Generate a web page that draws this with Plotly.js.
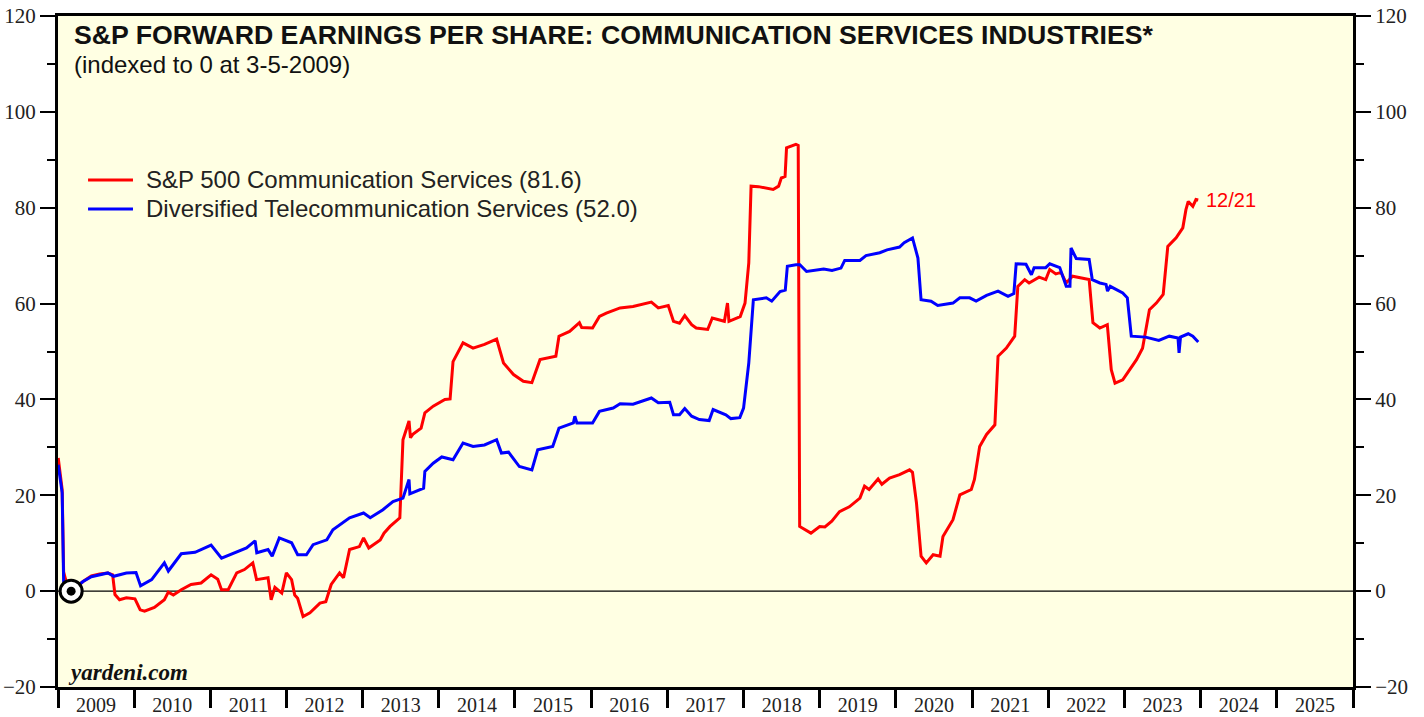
<!DOCTYPE html>
<html>
<head>
<meta charset="utf-8">
<script src="https://cdn.plot.ly/plotly-3.0.1.min.js"></script>
<style>
  html, body { margin: 0; padding: 0; background: #ffffff; }
  #chart { width: 1424px; height: 717px; }
</style>
</head>
<body>
<div id="chart"></div>
<script>
// ---- Data ----
const redName = "S&P 500 Communication Services (81.6)";
const blueName = "Diversified Telecommunication Services (52.0)";

const redDates = [
 "2009-01-02","2009-01-21","2009-01-28","2009-02-06","2009-02-20","2009-03-05","2009-05-01","2009-06-10","2009-07-20","2009-08-28",
 "2009-09-20","2009-10-01","2009-10-23","2009-11-25","2010-01-05","2010-01-30","2010-02-20","2010-04-08","2010-05-26","2010-06-14",
 "2010-07-08","2010-08-15","2010-10-01","2010-11-18","2011-01-05","2011-02-06","2011-02-24","2011-03-28","2011-05-08","2011-06-14",
 "2011-07-24","2011-08-11","2011-10-05","2011-10-20","2011-11-07","2011-12-10","2012-01-01","2012-01-26","2012-02-10","2012-02-24",
 "2012-03-21","2012-04-23","2012-06-10","2012-07-08","2012-08-03","2012-09-12","2012-10-01","2012-10-30","2012-12-16","2013-01-05",
 "2013-01-30","2013-03-26","2013-04-13","2013-05-12","2013-06-28","2013-07-13","2013-08-11","2013-08-18","2013-08-29","2013-10-08",
 "2013-10-26","2013-12-05","2014-01-30","2014-02-24","2014-03-10","2014-04-27","2014-06-14","2014-08-08","2014-10-05","2014-11-07",
 "2014-12-25","2015-02-10","2015-03-23","2015-05-01","2015-07-16","2015-07-31","2015-09-20","2015-11-06","2015-11-17","2016-01-08",
 "2016-02-10","2016-03-14","2016-05-19","2016-07-20","2016-10-16","2016-11-18","2017-01-05","2017-01-30","2017-02-28","2017-03-25",
 "2017-04-27","2017-05-19","2017-07-13","2017-08-04","2017-10-01","2017-10-16","2017-10-23","2017-12-16","2018-01-08","2018-01-26",
 "2018-02-06","2018-03-14","2018-05-23","2018-06-18","2018-07-01","2018-07-19","2018-07-26","2018-09-09","2018-09-20","2018-09-27",
 "2018-11-20","2019-01-01","2019-01-26","2019-02-28","2019-04-06","2019-05-23","2019-07-13","2019-08-04","2019-08-26","2019-10-08",
 "2019-10-26","2019-12-02","2020-01-19","2020-03-07","2020-03-21","2020-04-09","2020-05-01","2020-05-26","2020-06-28","2020-07-31",
 "2020-08-14","2020-10-01","2020-11-03","2020-12-28","2021-01-12","2021-02-06","2021-03-11","2021-04-20","2021-05-05","2021-06-14",
 "2021-07-24","2021-08-08","2021-09-10","2021-10-01","2021-11-18","2021-12-20","2022-01-08","2022-02-06","2022-03-03","2022-03-28",
 "2022-04-27","2022-06-06","2022-07-16","2022-08-03","2022-09-05","2022-10-11","2022-10-30","2022-11-17","2022-12-24","2023-01-15",
 "2023-02-03","2023-02-28","2023-03-29","2023-05-01","2023-06-03","2023-07-06","2023-07-28","2023-09-06","2023-10-08","2023-10-23",
 "2023-11-03","2023-11-25","2023-12-10","2023-12-21"
];
const redValues = [
 27.8,21.2,4.0,2.5,1.0,0.0,2.0,3.2,3.6,3.8,
 3.4,-0.7,-1.8,-1.4,-1.6,-3.9,-4.2,-3.4,-1.8,-0.2,
 -0.8,0.3,1.4,1.7,3.4,2.5,0.3,0.3,3.8,4.5,
 5.9,2.4,2.8,-1.8,0.8,-0.4,3.8,2.4,-0.8,-1.5,
 -5.3,-4.5,-2.5,-2.2,1.4,3.8,2.8,8.7,9.3,11.1,
 9.0,10.7,12.1,13.5,15.3,31.6,35.5,32.0,32.7,34.0,
 37.2,38.6,40.0,40.1,47.9,51.8,50.7,51.5,52.6,47.6,
 45.2,43.8,43.5,48.3,49.0,53.2,54.2,56.0,55.0,54.9,
 57.3,58.0,59.1,59.4,60.3,59.1,59.6,56.3,55.9,57.5,
 55.6,54.9,54.6,57.0,56.3,60.1,56.3,57.3,60.1,68.5,
 84.5,84.4,83.8,84.5,86.2,86.5,92.5,93.2,93.0,13.5,
 12.1,13.5,13.4,14.6,16.6,17.6,19.4,21.9,21.2,23.4,
 22.3,23.6,24.3,25.3,24.8,18.4,7.3,5.9,7.6,7.3,
 11.4,14.9,20.1,21.2,23.3,30.2,32.7,34.7,49.0,50.7,
 53.2,63.6,65.0,64.3,65.5,65.0,67.1,66.2,66.5,64.3,
 65.7,65.3,65.0,56.0,54.9,55.6,46.2,43.4,44.1,45.5,
 46.6,48.3,50.7,58.7,60.1,61.9,71.9,73.7,75.8,79.6,
 81.3,80.3,81.7,81.6
];

const blueDates = [
 "2009-01-02","2009-01-21","2009-01-28","2009-02-10","2009-03-05","2009-05-01","2009-06-10","2009-07-20","2009-08-28","2009-09-25",
 "2009-11-25","2010-01-10","2010-02-01","2010-03-26","2010-05-26","2010-06-14","2010-08-15","2010-10-20","2011-01-05","2011-02-24",
 "2011-04-27","2011-06-24","2011-08-04","2011-08-12","2011-10-05","2011-10-25","2011-11-28","2012-01-26","2012-02-24","2012-04-06",
 "2012-05-08","2012-07-13","2012-08-11","2012-10-30","2013-01-05","2013-02-06","2013-04-08","2013-05-26","2013-07-13","2013-08-11",
 "2013-08-15","2013-10-01","2013-10-20","2013-10-26","2013-12-05","2014-01-15","2014-03-10","2014-04-27","2014-06-14","2014-08-08",
 "2014-10-05","2014-10-28","2014-12-01","2015-01-22","2015-03-23","2015-04-20","2015-07-01","2015-07-31","2015-10-08","2015-10-15",
 "2015-10-25","2016-01-08","2016-02-10","2016-04-16","2016-05-19","2016-07-20","2016-10-16","2016-11-18","2017-01-12","2017-01-30",
 "2017-02-28","2017-03-25","2017-04-27","2017-06-03","2017-07-20","2017-08-08","2017-10-08","2017-11-01","2017-12-14","2018-01-01",
 "2018-01-26","2018-02-17","2018-04-20","2018-05-16","2018-06-25","2018-07-20","2018-07-30","2018-09-09","2018-09-28","2018-10-30",
 "2019-01-20","2019-03-01","2019-04-13","2019-05-01","2019-07-13","2019-08-11","2019-10-16","2019-11-20","2020-01-19","2020-02-10",
 "2020-03-21","2020-04-16","2020-05-01","2020-06-18","2020-07-20","2020-10-01","2020-11-03","2020-12-20","2021-01-20","2021-03-11",
 "2021-05-05","2021-06-22","2021-07-20","2021-07-31","2021-09-16","2021-10-12","2021-10-25","2021-12-20","2022-01-08","2022-02-25",
 "2022-03-28","2022-04-15","2022-04-20","2022-05-15","2022-07-16","2022-07-31","2022-09-05","2022-10-05","2022-10-12","2022-10-25",
 "2022-12-24","2023-01-15","2023-02-03","2023-04-13","2023-06-15","2023-08-04","2023-09-15","2023-09-20","2023-09-27","2023-11-03",
 "2023-11-25","2023-12-21"
];
const blueValues = [
 26.4,20.5,2.0,1.0,0.0,2.0,3.0,3.4,3.8,3.1,
 3.8,3.9,1.1,2.4,5.9,4.2,7.8,8.1,9.6,6.9,
 8.0,9.0,10.5,8.0,8.7,7.3,11.1,10.1,7.6,7.6,
 9.7,10.7,12.8,15.3,16.3,15.3,17.0,18.7,19.4,23.3,
 20.3,21.2,21.5,25.0,26.7,28.0,27.4,30.9,30.2,30.5,
 31.6,28.8,29.0,26.0,25.3,29.5,30.2,34.0,35.1,36.5,
 35.1,35.1,37.5,38.2,39.1,39.0,40.3,39.3,39.4,36.8,
 36.8,38.1,36.5,35.8,35.6,37.9,36.8,36.0,36.2,38.2,
 47.6,60.8,61.2,60.5,62.5,62.8,67.8,68.1,68.1,66.7,
 67.2,66.9,67.4,69.0,69.0,70.0,70.6,71.2,71.8,72.7,
 73.7,69.5,60.8,60.5,59.6,60.1,61.2,61.2,60.5,61.7,
 62.6,61.5,62.1,68.3,68.2,66.0,67.5,67.5,68.3,67.5,
 63.6,63.6,71.6,69.4,69.2,65.0,64.3,64.0,62.6,63.6,
 62.2,61.2,53.2,53.0,52.3,53.2,52.8,49.7,53.0,53.7,
 53.2,52.0
];

const indexDate = ["2009-03-05"];
const indexValue = [0];
const lastLabel = "12/21";
const yTickVals = [-20, 0, 20, 40, 60, 80, 100, 120];

// ---- Styling ----
const serif = "Liberation Serif, Times New Roman, serif";
const sans = "Liberation Sans, Arial, sans-serif";
const RED = "#ff0000", BLUE = "#0000ff";

const traces = [
  { x: redDates, y: redValues, name: redName, type: "scatter", mode: "lines",
    line: { color: RED, width: 3 }, hoverinfo: "skip", showlegend: false },
  { x: blueDates, y: blueValues, name: blueName, type: "scatter", mode: "lines",
    line: { color: BLUE, width: 3 }, hoverinfo: "skip", showlegend: false },
  { x: indexDate, y: indexValue, type: "scatter", mode: "markers", showlegend: false,
    marker: { size: 22, color: "#ffffff", line: { color: "#000000", width: 3 } }, hoverinfo: "skip" },
  { x: indexDate, y: indexValue, type: "scatter", mode: "markers", showlegend: false,
    marker: { size: 9, color: "#000000" }, hoverinfo: "skip" },
  { x: [redDates[0]], y: [0], yaxis: "y2", type: "scatter", mode: "lines", showlegend: false,
    line: { width: 0 }, hoverinfo: "skip" }
];

const yCommon = {
  range: [-20, 120], tickvals: yTickVals, ticks: "outside", ticklen: 15, tickwidth: 2,
  tickcolor: "#000", showgrid: false, zeroline: false, showline: true, linewidth: 3, linecolor: "#000",
  tickfont: { family: serif, size: 21, color: "#222" },
  minor: { dtick: 10, tick0: 0, ticks: "outside", ticklen: 8, tickwidth: 2, tickcolor: "#000", showgrid: false }
};

// legend rows (paper coords relative to plot area)
const legendRows = [
  { name: redName, color: RED, y: 0.7556 },
  { name: blueName, color: BLUE, y: 0.7124 }
];

const shapes = [
  { type: "line", xref: "paper", x0: 0, x1: 1, yref: "y", y0: 0, y1: 0,
    line: { color: "#000", width: 1.2 }, layer: "below" }
];
const annotations = [
  { xref: "paper", yref: "paper", x: 0.0105, y: 0.972, xanchor: "left", yanchor: "middle",
    text: "<b>S&P FORWARD EARNINGS PER SHARE: COMMUNICATION SERVICES INDUSTRIES*</b>",
    showarrow: false, font: { family: sans, size: 26.7, color: "#111" } },
  { xref: "paper", yref: "paper", x: 0.0105, y: 0.927, xanchor: "left", yanchor: "middle",
    text: "(indexed to 0 at 3-5-2009)",
    showarrow: false, font: { family: sans, size: 24, color: "#111" } },
  { xref: "x", yref: "y", x: redDates[redDates.length - 1], y: redValues[redValues.length - 1],
    xanchor: "left", yanchor: "middle", xshift: 6, yshift: 0, text: lastLabel, showarrow: false,
    font: { family: sans, size: 20, color: RED } },
  { xref: "paper", yref: "paper", x: 0.0065, y: 0.021, xanchor: "left", yanchor: "middle",
    text: "<b><i>yardeni.com</i></b>", showarrow: false,
    font: { family: serif, size: 23, color: "#111" } }
];
legendRows.forEach(r => {
  shapes.push({ type: "line", xref: "paper", yref: "paper", x0: 0.0232, x1: 0.0579, y0: r.y, y1: r.y,
    line: { color: r.color, width: 3 } });
  annotations.push({ xref: "paper", yref: "paper", x: 0.0665, y: r.y, xanchor: "left", yanchor: "middle",
    text: r.name.replace("&", "&amp;"), showarrow: false, font: { family: sans, size: 24, color: "#222" } });
});

const layout = {
  width: 1424, height: 717,
  margin: { l: 58, r: 71, t: 16, b: 30, pad: 0 },
  paper_bgcolor: "#ffffff",
  plot_bgcolor: "#ffffe3",
  showlegend: false,
  xaxis: {
    type: "date", range: ["2009-01-01", "2026-01-01"],
    dtick: "M12", tick0: "2009-01-01", tickformat: "%Y", ticklabelmode: "period",
    ticks: "outside", ticklen: 18, tickwidth: 3, tickcolor: "#000", ticklabelstandoff: -20,
    showgrid: false, zeroline: false, showline: true, mirror: true, linewidth: 3, linecolor: "#000",
    tickfont: { family: serif, size: 20, color: "#222" }
  },
  yaxis: Object.assign({}, yCommon, { side: "left", mirror: true }),
  yaxis2: Object.assign({}, yCommon, { side: "right", overlaying: "y", ticklabelstandoff: 0 }),
  shapes: shapes,
  annotations: annotations
};

Plotly.newPlot("chart", traces, layout, { staticPlot: true, displayModeBar: false });
</script>
</body>
</html>
